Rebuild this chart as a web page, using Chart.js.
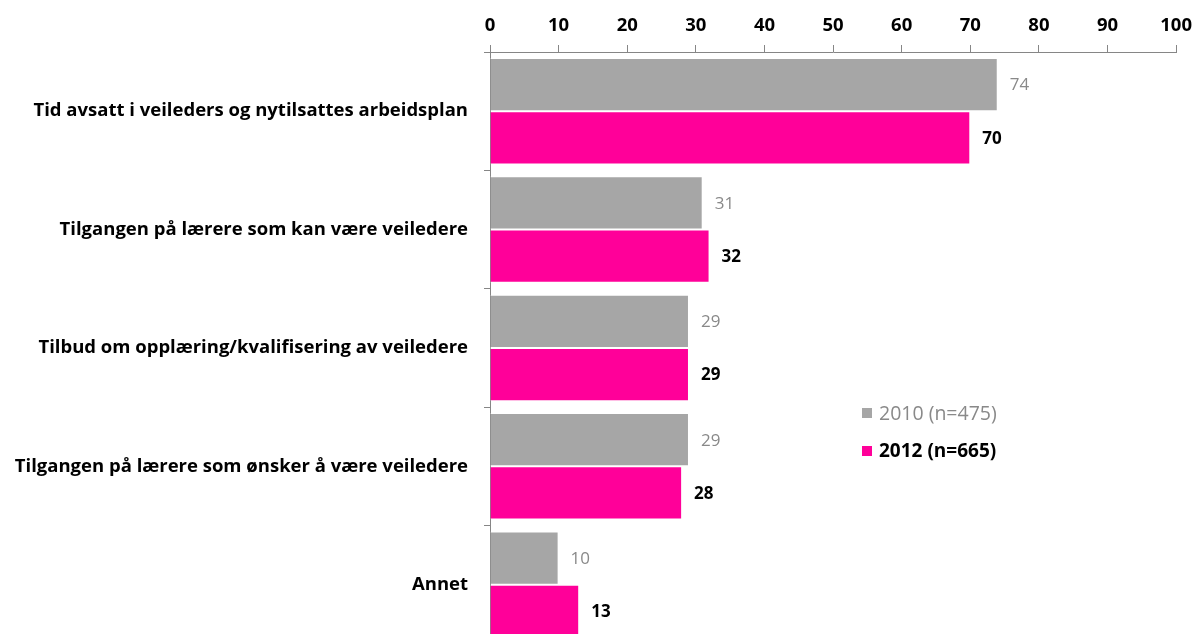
<!DOCTYPE html>
<html>
<head>
<meta charset="utf-8">
<script src="https://cdn.jsdelivr.net/npm/chart.js@4"></script>
<style>
  html, body { margin: 0; padding: 0; background: #fff; overflow: hidden; }
  #wrap { position: relative; width: 1200px; height: 671px; }
</style>
</head>
<body>
<div id="wrap"><canvas id="chart"></canvas></div>
<script>
// kategorier og verdier lest av figuren
const categories = [
  'Tid avsatt i veileders og nytilsattes arbeidsplan',
  'Tilgangen på lærere som kan være veiledere',
  'Tilbud om opplæring/kvalifisering av veiledere',
  'Tilgangen på lærere som ønsker å være veiledere',
  'Annet'
];
const values2010 = [74, 31, 29, 29, 10];
const values2012 = [70, 32, 29, 28, 13];
const seriesLabels = ['2010 (n=475)', '2012 (n=665)'];
const xTicks = [0, 10, 20, 30, 40, 50, 60, 70, 80, 90, 100];

const FONT = '"Open Sans", "Liberation Sans", sans-serif';
const GREY = '#A6A6A6';
const PINK = '#FF0099';
const LABEL_GREY = '#898989';

// === verdietiketter ved enden av hver stolpe ===
const valueLabels = {
  id: 'valueLabels',
  afterDatasetsDraw(chart) {
    const ctx = chart.ctx;
    chart.data.datasets.forEach((ds, i) => {
      const meta = chart.getDatasetMeta(i);
      ctx.save();
      ctx.font = (i === 1 ? 'bold ' : '') + '17px ' + FONT;
      ctx.fillStyle = i === 1 ? '#000' : LABEL_GREY;
      ctx.textAlign = 'left';
      ctx.textBaseline = 'middle';
      meta.data.forEach((bar, j) => {
        ctx.fillText(String(ds.data[j]), bar.x + 12, bar.y + 1);
      });
      ctx.restore();
    });
  }
};

// === egen tegnforklaring inne i plottet ===
const insideLegend = {
  id: 'insideLegend',
  afterDraw(chart, args, opts) {
    const ctx = chart.ctx;
    chart.data.datasets.forEach((ds, i) => {
      const y = opts.y + i * opts.gap;
      ctx.save();
      ctx.fillStyle = ds.backgroundColor;
      ctx.fillRect(opts.x, y - 5, 10, 10);
      ctx.font = (i === 1 ? 'bold 19px ' : '19.5px ') + FONT;
      ctx.fillStyle = i === 1 ? '#000' : LABEL_GREY;
      ctx.textBaseline = 'middle';
      ctx.fillText(ds.label, opts.x + 17, y + 1);
      ctx.restore();
    });
  }
};

new Chart(document.getElementById('chart'), {
  type: 'bar',
  data: {
    labels: categories,
    datasets: [
      { label: seriesLabels[0], data: values2010, backgroundColor: GREY, borderColor: '#fff', borderWidth: 1 },
      { label: seriesLabels[1], data: values2012, backgroundColor: PINK, borderColor: '#fff', borderWidth: 1 }
    ]
  },
  options: {
    indexAxis: 'y',
    responsive: true,
    maintainAspectRatio: false,
    animation: false,
    datasets: { bar: { categoryPercentage: 0.9, barPercentage: 1 } },
    layout: { padding: { top: 0, right: 2, bottom: 0, left: 0 } },
    plugins: {
      legend: { display: false },
      tooltip: { enabled: false },
      insideLegend: { x: 862, y: 413, gap: 38 }
    },
    scales: {
      x: {
        position: 'top',
        min: 0,
        max: 100,
        afterBuildTicks: s => { s.ticks = xTicks.map(v => ({ value: v })); },
        afterFit: s => { s.height = 52; },
        ticks: { color: '#000', font: { family: FONT, size: 18.5, weight: 'bold' }, padding: 8 },
        grid: { drawOnChartArea: false, drawTicks: true, tickLength: 7, color: '#868686' },
        border: { color: '#868686' }
      },
      y: {
        afterFit: s => { s.width = 490; },
        ticks: { color: '#000', font: { family: FONT, size: 18.5, weight: 'bold' }, padding: 16 },
        grid: { drawOnChartArea: false, drawTicks: true, tickLength: 6, color: '#868686', offset: true },
        border: { color: '#868686' }
      }
    }
  },
  plugins: [valueLabels, insideLegend]
});
</script>
</body>
</html>
